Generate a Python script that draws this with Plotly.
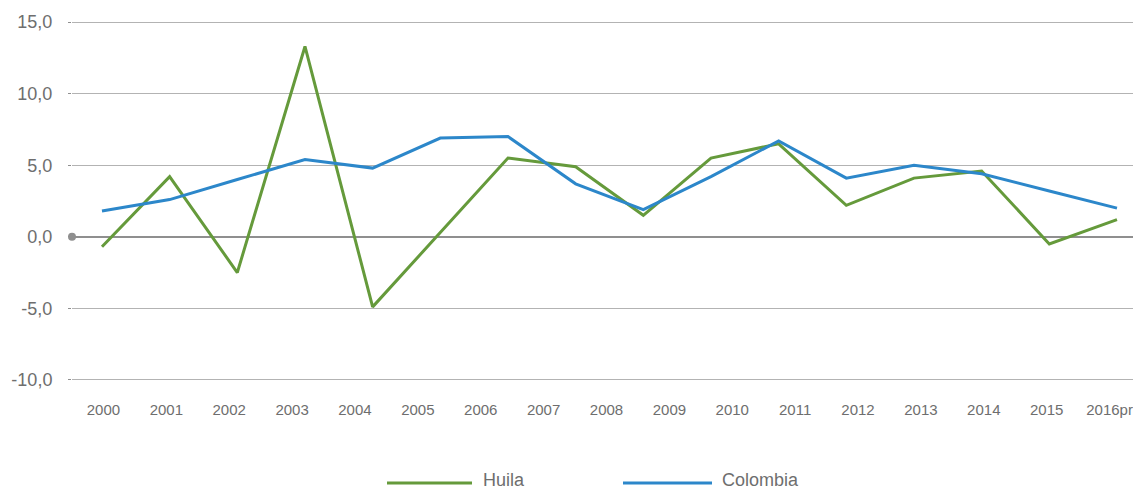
import plotly.graph_objects as go

# ---- data ----
year_labels = ["2000", "2001", "2002", "2003", "2004", "2005", "2006", "2007", "2008",
               "2009", "2010", "2011", "2012", "2013", "2014", "2015", "2016pr"]
series_periods = ["2001", "2002", "2003", "2004", "2005", "2006", "2007", "2008",
                  "2009", "2010", "2011", "2012", "2013", "2014", "2015", "2016pr"]
huila = [-0.7, 4.2, -2.5, 13.3, -4.9, 0.3, 5.5, 4.9, 1.5, 5.5, 6.5, 2.2, 4.1, 4.6, -0.5, 1.2]
colombia = [1.8, 2.6, 4.0, 5.4, 4.8, 6.9, 7.0, 3.7, 1.9, 4.2, 6.7, 4.1, 5.0, 4.4, 3.2, 2.0]
y_ticks = [-10, -5, 0, 5, 10, 15]
y_tick_text = ["-10,0", "-5,0", "0,0", "5,0", "10,0", "15,0"]

GREEN = "#659a3b"
BLUE = "#2c87ca"
GRID = "#b3b3b3"
TXT = "#6e6e6e"
FONT = "Liberation Sans, Arial, sans-serif"

# page body has an 8px default margin; size the figure to fit the 1141x492 window
OFF = 8
W, H = 1141 - OFF, 492 - OFF
L, R, T, B = 64, 0, 12, 110
PAD = 0.15

fig = go.Figure()
# invisible trace to anchor the category axis
fig.add_trace(go.Scatter(x=year_labels, y=[None] * len(year_labels), xaxis="x", yaxis="y",
                         showlegend=False, hoverinfo="skip"))
fig.add_trace(go.Scatter(x=series_periods, y=huila, name="Huila", mode="lines",
                         line=dict(color=GREEN, width=3), xaxis="x2", yaxis="y"))
fig.add_trace(go.Scatter(x=series_periods, y=colombia, name="Colombia", mode="lines",
                         line=dict(color=BLUE, width=3), xaxis="x2", yaxis="y"))

pw = W - L - R
ph = H - T - B


def px_x(p):
    return (p - OFF - L) / pw


def px_y(p):
    return (H - B - (p - OFF)) / ph


LEG_LINE_Y = 483
LEG_TEXT_Y = 480
shapes = [
    dict(type="circle", xref="paper", yref="y", xsizemode="pixel", ysizemode="pixel",
         xanchor=0, yanchor=0, x0=-4, x1=4, y0=-4, y1=4,
         fillcolor="#8f8f8f", line=dict(width=0)),
    dict(type="line", xref="paper", yref="paper", x0=px_x(387), x1=px_x(472),
         y0=px_y(LEG_LINE_Y), y1=px_y(LEG_LINE_Y), line=dict(color=GREEN, width=3)),
    dict(type="line", xref="paper", yref="paper", x0=px_x(623), x1=px_x(712),
         y0=px_y(LEG_LINE_Y), y1=px_y(LEG_LINE_Y), line=dict(color=BLUE, width=3)),
]
annotations = [
    dict(text="Huila", xref="paper", yref="paper", x=px_x(482), y=px_y(LEG_TEXT_Y),
         xanchor="left", yanchor="middle", showarrow=False, borderpad=0,
         font=dict(size=18, color=TXT, family=FONT)),
    dict(text="Colombia", xref="paper", yref="paper", x=px_x(721), y=px_y(LEG_TEXT_Y),
         xanchor="left", yanchor="middle", showarrow=False, borderpad=0,
         font=dict(size=18, color=TXT, family=FONT)),
]

fig.update_layout(
    width=W, height=H,
    margin=dict(l=L, r=R, t=T, b=B, autoexpand=False),
    paper_bgcolor="white", plot_bgcolor="white",
    showlegend=False,
    font=dict(family=FONT, size=16, color=TXT),
    xaxis=dict(type="category", categoryorder="array", categoryarray=year_labels,
               range=[-0.5, len(year_labels) - 0.5], showgrid=False, zeroline=False,
               showline=False, ticks="outside", ticklen=14, tickcolor="rgba(0,0,0,0)",
               tickfont=dict(size=15, color=TXT, family=FONT)),
    xaxis2=dict(type="category", categoryorder="array", categoryarray=series_periods,
                overlaying="x", visible=False, range=[-0.443, 15.355]),
    yaxis=dict(range=[-10 - PAD, 15 + PAD], tickvals=y_ticks, ticktext=y_tick_text,
               showgrid=True, gridcolor=GRID, gridwidth=1,
               zeroline=True, zerolinecolor="#8f8f8f", zerolinewidth=2,
               showline=False, ticks="outside", ticklen=3, tickcolor="#8f8f8f",
               ticklabelstandoff=12,
               tickfont=dict(size=18, color=TXT, family=FONT)),
    shapes=shapes,
    annotations=annotations,
)

fig.write_html("out.html")
